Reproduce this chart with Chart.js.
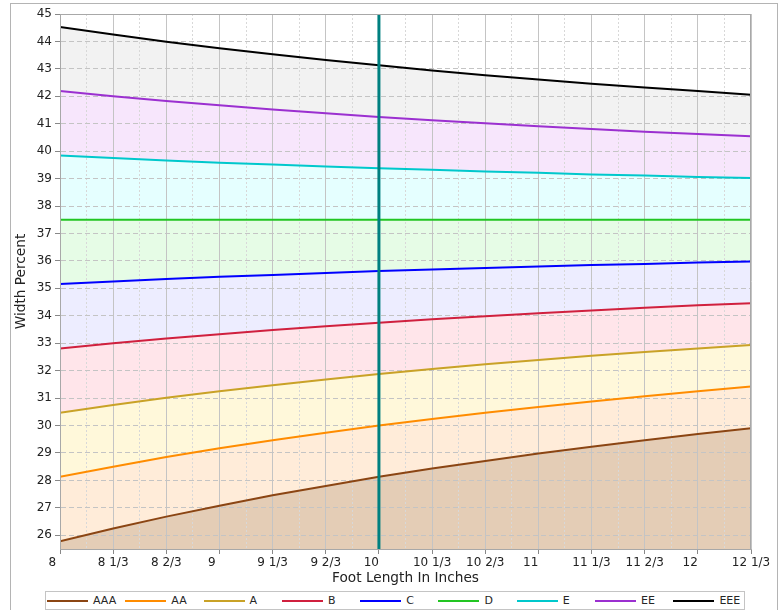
<!DOCTYPE html>
<html>
<head>
<meta charset="utf-8">
<title>Width Percent by Foot Length</title>
<script src="https://cdn.jsdelivr.net/npm/chart.js@4.4.1/dist/chart.umd.min.js"></script>
<style>
    body { margin: 0; background: #fff; font-family: "DejaVu Sans", sans-serif; }
    #wrap { position: relative; width: 781px; height: 610px; overflow: hidden; }
    #chart { position: absolute; left: 0; top: 0; }
    #frame {
        position: absolute; left: 10px; top: 3px; width: 766px; height: 640px;
        border: 1px solid #b4b4b4; pointer-events: none;
    }
    #legend {
        position: absolute; left: 45px; top: 591px; width: 697px; height: 17px;
        border: 1px solid #c4c4c4; display: flex; flex-wrap: nowrap;
        padding-left: 1px; box-sizing: content-box;
    }
    .item { flex: 0 0 78.3px; display: flex; align-items: center; font-size: 11px; color: #262626; white-space: nowrap; }
    .item .swatch { width: 41px; height: 2px; margin-right: 5px; }
</style>
</head>
<body>
<div id="wrap">
    <canvas id="chart" width="781" height="590"></canvas>
    <div id="legend"></div>
    <div id="frame"></div>
</div>
<script>
// ------------------------------
// DATA
// ------------------------------
const footLength = [8, 8.3333, 8.6667, 9, 9.3333, 9.6667, 10, 10.3333, 10.6667, 11, 11.3333, 11.6667, 12, 12.3333];
const xTickLabels = ["8", "8 1/3", "8 2/3", "9", "9 1/3", "9 2/3", "10", "10 1/3", "10 2/3", "11", "11 1/3", "11 2/3", "12", "12 1/3"];
const yTickValues = [26, 27, 28, 29, 30, 31, 32, 33, 34, 35, 36, 37, 38, 39, 40, 41, 42, 43, 44, 45];

const widthAAA = [25.78, 26.25, 26.68, 27.08, 27.46, 27.80, 28.13, 28.43, 28.71, 28.98, 29.23, 29.46, 29.69, 29.90];
const widthAA  = [28.13, 28.50, 28.85, 29.17, 29.46, 29.74, 30.00, 30.24, 30.47, 30.68, 30.88, 31.07, 31.25, 31.42];
const widthA   = [30.47, 30.75, 31.01, 31.25, 31.47, 31.68, 31.88, 32.06, 32.23, 32.39, 32.54, 32.68, 32.81, 32.94];
const widthB   = [32.81, 33.00, 33.17, 33.33, 33.48, 33.62, 33.75, 33.87, 33.98, 34.09, 34.19, 34.29, 34.38, 34.46];
const widthC   = [35.16, 35.25, 35.34, 35.42, 35.49, 35.56, 35.63, 35.69, 35.74, 35.80, 35.85, 35.89, 35.94, 35.98];
const widthD   = [37.5, 37.5, 37.5, 37.5, 37.5, 37.5, 37.5, 37.5, 37.5, 37.5, 37.5, 37.5, 37.5, 37.5];
const widthE   = [39.84, 39.75, 39.66, 39.58, 39.51, 39.44, 39.38, 39.32, 39.26, 39.21, 39.15, 39.11, 39.06, 39.02];
const widthEE  = [42.19, 42.00, 41.83, 41.67, 41.52, 41.38, 41.25, 41.13, 41.02, 40.91, 40.81, 40.71, 40.63, 40.54];
const widthEEE = [44.53, 44.25, 43.99, 43.75, 43.53, 43.32, 43.13, 42.94, 42.77, 42.61, 42.46, 42.32, 42.19, 42.06];

const seriesNames  = ["AAA", "AA", "A", "B", "C", "D", "E", "EE", "EEE"];
const seriesValues = [widthAAA, widthAA, widthA, widthB, widthC, widthD, widthE, widthEE, widthEEE];

const markerLength = 10;
const yMin = 25.5;
const yMax = 45;

// ------------------------------
// STYLES
// ------------------------------
const lineColors = ["#8b4513", "#ff8c00", "#c9a227", "#d0203e", "#0000ff", "#22c522", "#00c8cc", "#9b30d0", "#000000"];
const fillColors = ["#e4cdb6", "#ffecd9", "#fff8da", "#ffe5ea", "#ededff", "#e6fce6", "#e5ffff", "#f7e6fc", "#f2f2f2"];

const minorLength = footLength.slice(1).map((v, i) => (v + footLength[i]) / 2);

// ------------------------------
// DATASETS
// ------------------------------
// marker goes first so that no band fills to dataset index 0
// (filler's beforeDraw path skips a numeric target of 0)
const datasets = [{
    label: "marker",
    data: [{ x: markerLength, y: yMin }, { x: markerLength, y: yMax }],
    borderColor: "#008080",
    borderWidth: 3,
    pointRadius: 0,
    fill: false,
    order: -1
}];

seriesNames.forEach((name, i) => {
    datasets.push({
        label: name,
        data: footLength.map((x, j) => ({ x, y: seriesValues[i][j] })),
        borderColor: lineColors[i],
        backgroundColor: fillColors[i],
        borderWidth: 2,
        pointRadius: 0,
        tension: 0,
        fill: i === 0 ? "start" : "-1"
    });
});

// frame round the plot area
const plotFrame = {
    id: "plotFrame",
    afterDraw(chart) {
        const { ctx, chartArea: a } = chart;
        ctx.save();
        ctx.strokeStyle = "#a8a8a8";
        ctx.lineWidth = 1;
        ctx.strokeRect(a.left + 0.5, a.top + 0.5, a.right - a.left - 1, a.bottom - a.top);
        ctx.restore();
    }
};

const font = { family: "DejaVu Sans", size: 12 };
const titleFont = { family: "DejaVu Sans", size: 13.7 };

new Chart(document.getElementById("chart").getContext("2d"), {
    type: "line",
    data: { datasets },
    plugins: [plotFrame],
    options: {
        responsive: false,
        animation: false,
        layout: { padding: { top: 14, right: 30, left: 0, bottom: 0 } },
        plugins: {
            legend: { display: false },
            tooltip: { enabled: false },
            filler: { drawTime: "beforeDraw" }
        },
        scales: {
            x: {
                type: "linear",
                min: footLength[0],
                max: footLength[footLength.length - 1],
                afterBuildTicks: (s) => { s.ticks = footLength.map(v => ({ value: v })); },
                afterFit: (s) => { s.height = 41; },
                ticks: {
                    autoSkip: false,
                    maxRotation: 0,
                    padding: 2,
                    color: "#222",
                    font,
                    callback: (v, i) => xTickLabels[i].includes("/") ? xTickLabels[i] : xTickLabels[i] + "    "
                },
                grid: { color: "#c4c4c4", lineWidth: 1, tickLength: 5, tickColor: "#888" },
                border: { display: true, color: "#a8a8a8" },
                title: {
                    display: true,
                    text: "Foot Length In Inches",
                    color: "#222",
                    font: titleFont,
                    padding: { top: 0, bottom: 3 }
                }
            },
            xMinor: {
                type: "linear",
                position: "bottom",
                min: footLength[0],
                max: footLength[footLength.length - 1],
                afterBuildTicks: (s) => { s.ticks = minorLength.map(v => ({ value: v })); },
                afterFit: (s) => { s.height = 0; },
                ticks: { display: false },
                grid: { color: "#d8d8d8", lineWidth: 1, drawTicks: false },
                border: { display: false, dash: [2, 2] }
            },
            y: {
                type: "linear",
                min: yMin,
                max: yMax,
                afterBuildTicks: (s) => { s.ticks = yTickValues.map(v => ({ value: v })); },
                afterFit: (s) => { s.width = 60; },
                ticks: { padding: 3, color: "#222", font },
                grid: { color: "#c4c4c4", lineWidth: 1, tickLength: 5, tickColor: "#888", tickBorderDash: [] },
                border: { display: true, color: "#a8a8a8", dash: [5, 3] },
                title: {
                    display: true,
                    text: "Width Percent",
                    color: "#222",
                    font: titleFont,
                    padding: { top: 13, bottom: 0 }
                }
            }
        }
    }
});

// ------------------------------
// LEGEND
// ------------------------------
const legend = document.getElementById("legend");
seriesNames.forEach((name, i) => {
    const item = document.createElement("div");
    item.className = "item";
    const sw = document.createElement("span");
    sw.className = "swatch";
    sw.style.background = lineColors[i];
    const label = document.createElement("span");
    label.textContent = name;
    item.appendChild(sw);
    item.appendChild(label);
    legend.appendChild(item);
});
</script>
</body>
</html>
